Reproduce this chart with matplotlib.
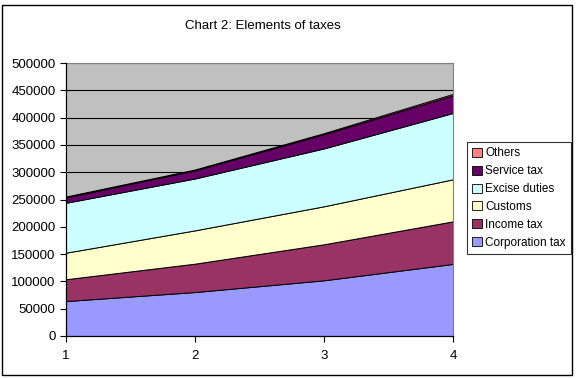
import matplotlib.pyplot as plt
from matplotlib.patches import Patch, Rectangle

plt.rcParams['font.family'] = ['Liberation Sans', 'DejaVu Sans']

# data (stacked area, bottom to top)
years = [1, 2, 3, 4]
corporation_tax = [64000, 80500, 102000, 132000]
income_tax = [40000, 52000, 66000, 78000]
customs = [48600, 61000, 69600, 77000]
excise_duties = [91400, 95000, 106000, 121500]
service_tax = [10000, 15000, 26000, 32500]
others = [1500, 1500, 2000, 2500]

labels = ['Corporation tax', 'Income tax', 'Customs', 'Excise duties',
          'Service tax', 'Others']
colors = ['#9999FF', '#993366', '#FFFFCC', '#CCFFFF', '#660066', '#FF8080']

fig = plt.figure(figsize=(5.76, 3.79), dpi=100)
ax = fig.add_axes([66/576, 1-336/379, (453-66)/576, (336-63)/379])

# outer chart border
fig.patches.append(Rectangle((2/576, 4/379), 570/576, 370/379,
                             transform=fig.transFigure, fill=False,
                             edgecolor='black', linewidth=1))

ax.set_facecolor('#C0C0C0')
ax.stackplot(years, corporation_tax, income_tax, customs, excise_duties,
             service_tax, others, colors=colors, edgecolor='black',
             linewidth=0.7, zorder=2)

ax.set_xlim(1, 4)
ax.set_ylim(0, 500000)
ax.set_xticks(years)
ax.set_yticks(range(0, 500001, 50000))
ax.yaxis.grid(True, color='black', linewidth=0.8, zorder=1)
ax.set_axisbelow(True)
ax.tick_params(labelsize=9.5, length=4, width=0.8, color='black', direction='out')
ax.tick_params(axis='x', pad=6)
for s in ['top', 'right']:
    ax.spines[s].set_color('#808080')
for s in ['left', 'bottom']:
    ax.spines[s].set_linewidth(0.9)
    ax.spines[s].set_zorder(3)

fig.text(263/576, 1-26/379, 'Chart 2: Elements of taxes', ha='center',
         va='center', fontsize=9.5)

handles = [Patch(facecolor=c, edgecolor='black', linewidth=0.6)
           for c in colors][::-1]
leg = fig.legend(handles, labels[::-1], loc='upper left',
                 bbox_to_anchor=(467/576, 1-142/379), fontsize=8.5,
                 frameon=True, fancybox=False, edgecolor='black',
                 handlelength=0.8, handleheight=0.8, handletextpad=0.3,
                 labelspacing=0.5, borderpad=0.45, borderaxespad=0)
leg.get_frame().set_linewidth(0.8)

fig.savefig('out.png', dpi=100)
